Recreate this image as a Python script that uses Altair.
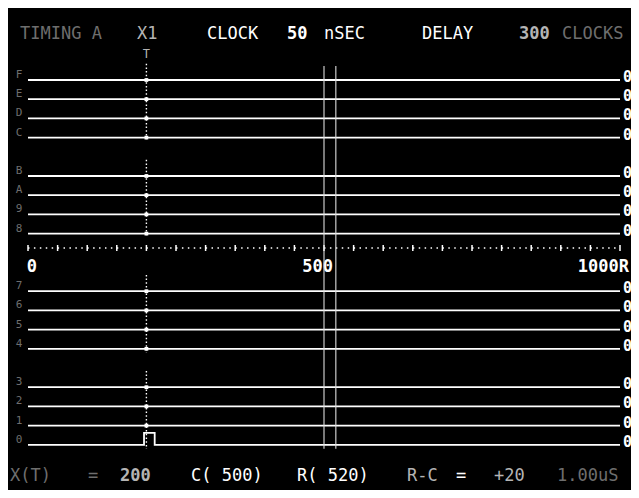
import altair as alt
import pandas as pd

# ---------------- values ----------------
channels = ["F", "E", "D", "C", "B", "A", "9", "8",
            "7", "6", "5", "4", "3", "2", "1", "0"]
toggle_times = {"0": [196, 214]}          # times where a channel changes level
initial_level = 0
time_start, time_end = 0, 1000
cursor_x, cursor_c, cursor_r = 200, 500, 520
clock_ns = 50
delay_clocks = 300
axis_tick_values = [0, 50, 100, 150, 200, 250, 300, 350, 400, 450, 500,
                    550, 600, 650, 700, 750, 800, 850, 900, 950, 1000]
axis_label_values = [0, 500, 1000]
axis_label_texts = ["0", "500", "1000R"]

header_texts = ["TIMING A", "X1", "CLOCK", str(clock_ns), "nSEC", "DELAY",
                str(delay_clocks), "CLOCKS"]
footer_texts = ["X(T)", "=", str(cursor_x), f"C( {cursor_c})", f"R( {cursor_r})",
                "R-C", "=", f"+{cursor_r - cursor_c}",
                f"{(cursor_r - cursor_c) * clock_ns / 1000:.2f}uS"]

# ---------------- layout / styling (not data) ----------------
FONT = "DejaVu Sans Mono"
BRIGHT, MID, DIM = "#ffffff", "#b4b4b4", "#6e6e6e"
header_x = [-8, 109, 179, 259, 296, 394, 491, 534]
header_col = [DIM, MID, BRIGHT, BRIGHT, BRIGHT, BRIGHT, MID, DIM]
header_bold = [False, False, False, True, False, False, True, False]
footer_x = [-18, 60, 92, 163, 269, 379, 428, 466, 529]
footer_col = [DIM, DIM, MID, BRIGHT, BRIGHT, MID, BRIGHT, MID, DIM]
footer_bold = [False, False, True, False, False, False, False, False, False]
HIGH_STEP = 0.62
AXIS_Y = 240


def slot(i):
    return i + i // 4 + (1 if i >= 8 else 0)


# traces
rows = []
for i, ch in enumerate(channels):
    toggles = toggle_times.get(ch, [])
    times = [time_start] + toggles + [time_end]
    lvl = initial_level
    levels = [lvl]
    for _ in toggles:
        lvl = 1 - lvl
        levels.append(lvl)
    levels.append(lvl)
    for t, l in zip(times, levels):
        rows.append({"ch": ch, "t": t, "y": slot(i) - HIGH_STEP * l, "lvl": l})
traces = pd.DataFrame(rows)

ends = traces.groupby("ch", sort=False).tail(1).copy()
ends["txt"] = ends["lvl"].astype(str)

labels = pd.DataFrame({"ch": channels, "y": [slot(i) for i in range(len(channels))]})

dots = pd.DataFrame({"t": [cursor_x] * len([c for c in channels if c not in toggle_times]),
                     "y": [slot(i) for i, c in enumerate(channels) if c not in toggle_times]})

xseg = pd.DataFrame({"t": [cursor_x] * 4,
                     "y": [slot(g * 4) - 0.85 for g in range(4)],
                     "y2": [slot(g * 4 + 3) + 0.2 for g in range(4)]})

cursors = pd.DataFrame({"t": [cursor_c, cursor_r],
                        "y": [slot(0) - 0.73] * 2,
                        "y2": [slot(15) + 0.2] * 2})

axlab = pd.DataFrame({"t": axis_label_values, "txt": axis_label_texts})
axline = pd.DataFrame({"t": [time_start], "t2": [time_end]})
axticks = pd.DataFrame({"t": axis_tick_values})

hdr = pd.DataFrame({"txt": header_texts, "px": header_x, "col": header_col, "b": header_bold})
ftr = pd.DataFrame({"txt": footer_texts, "px": footer_x, "col": footer_col, "b": footer_bold})

xs = alt.Scale(domain=[time_start, time_end])
ys = alt.Scale(domain=[-3.75, 21.354], reverse=True)

X = lambda: alt.X("t:Q", scale=xs, axis=None)
Y = lambda: alt.Y("y:Q", scale=ys, axis=None)

axis_dots = alt.Chart(axline).mark_rule(
    color=BRIGHT, strokeWidth=1.6, strokeDash=[1.5, 4.42]
).encode(x=X(), x2="t2:Q", y=alt.value(AXIS_Y))

axis_ticks = alt.Chart(axticks).mark_rule(
    color=BRIGHT, strokeWidth=1.5
).encode(x=X(), y=alt.value(AXIS_Y - 3), y2=alt.value(AXIS_Y + 3))

axis_labels = alt.Chart(axlab).mark_text(
    font=FONT, fontSize=17, fontWeight="bold", color=BRIGHT, align="right",
    baseline="middle", dx=9
).encode(x=X(), y=alt.value(259), text="txt:N")

trace_layer = alt.Chart(traces).mark_line(
    interpolate="step-after", color=BRIGHT, strokeWidth=1.8
).encode(x=X(), y=Y(), detail="ch:N")

xseg_layer = alt.Chart(xseg).mark_rule(
    color=BRIGHT, strokeWidth=1.4, strokeDash=[1.5, 2.2]
).encode(x=X(), y=Y(), y2="y2:Q")

cur_layer = alt.Chart(cursors).mark_rule(
    color="#dddddd", strokeWidth=1.1
).encode(x=X(), y=Y(), y2="y2:Q")

dot_layer = alt.Chart(dots).mark_point(
    shape="square", filled=True, size=14, color=BRIGHT, opacity=1
).encode(x=X(), y=Y())

end_layer = alt.Chart(ends).mark_text(
    font=FONT, fontSize=15, fontWeight="bold", color=BRIGHT, align="left",
    baseline="middle", dx=3, dy=-3
).encode(x=X(), y=Y(), text="txt:N")

lab_layer = alt.Chart(labels).mark_text(
    font=FONT, fontSize=11, color=DIM, align="center", baseline="middle", dy=-5
).encode(x=alt.value(-9), y=Y(), text="ch:N")

t_layer = alt.Chart(pd.DataFrame({"t": [cursor_x], "txt": ["T"]})).mark_text(
    font=FONT, fontSize=12, color=MID, baseline="middle"
).encode(x=X(), y=alt.value(46), text="txt:N")


def text_rows(df, ypix, bold):
    return alt.Chart(df[df["b"] == bold]).mark_text(
        font=FONT, fontSize=17, fontWeight="bold" if bold else "normal",
        align="left", baseline="middle"
    ).encode(x=alt.X("px:Q", scale=None, axis=None), y=alt.value(ypix), text="txt:N",
             color=alt.Color("col:N", scale=None))


chart = alt.layer(
    axis_dots, axis_ticks, axis_labels, trace_layer, xseg_layer, cur_layer,
    dot_layer, end_layer, lab_layer, t_layer,
    text_rows(hdr, 26, False), text_rows(hdr, 26, True),
    text_rows(ftr, 468, False), text_rows(ftr, 468, True),
).properties(
    width=592, height=482, background="black",
    padding={"left": 20, "right": 11, "top": 0, "bottom": 0},
    autosize=alt.AutoSizeParams(type="none"),
).configure_view(stroke=None)

chart.save("out.html", embed_options={"renderer": "svg", "actions": False})
